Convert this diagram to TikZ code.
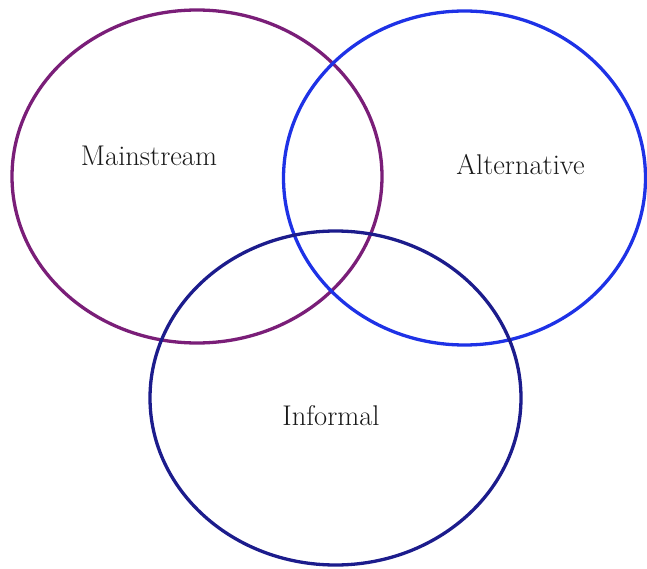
\documentclass[tikz,border=0pt]{standalone}
\usepackage{tikz}
\usetikzlibrary{shapes.geometric}
\definecolor{myviolet}{HTML}{7A1E78}
\definecolor{myblue}{HTML}{1E32E6}
\definecolor{mynavy}{HTML}{1C1C8C}
\tikzset{
  % Ellissi del diagramma
  ring/.style={shape=ellipse,draw,line width=3.3pt,inner sep=0pt},
  ring main/.style={ring,draw=myviolet,minimum width=370,minimum height=333},
  ring alt/.style={ring,draw=myblue,minimum width=362,minimum height=334},
  ring inf/.style={ring,draw=mynavy,minimum width=371,minimum height=334},
  % Etichette
  tag/.style={font=\fontsize{28.5}{32}\selectfont,text=black!90}
}
\begin{document}
\begin{tikzpicture}[x=1pt,y=-1pt]
        \useasboundingbox (0,0) rectangle (647,569);
        \node[ring main] (main) at (197,176.5) {};
        \node[ring alt]  (alt)  at (464.5,178) {};
        \node[ring inf]  (inf)  at (335.5,398) {};
        \node[tag] (tmain) at (149,156) {Mainstream};
        \node[tag] (talt)  at (520.5,165) {Alternative};
        \node[tag] (tinf)  at (331,416) {Informal};
      \end{tikzpicture}
\end{document}
